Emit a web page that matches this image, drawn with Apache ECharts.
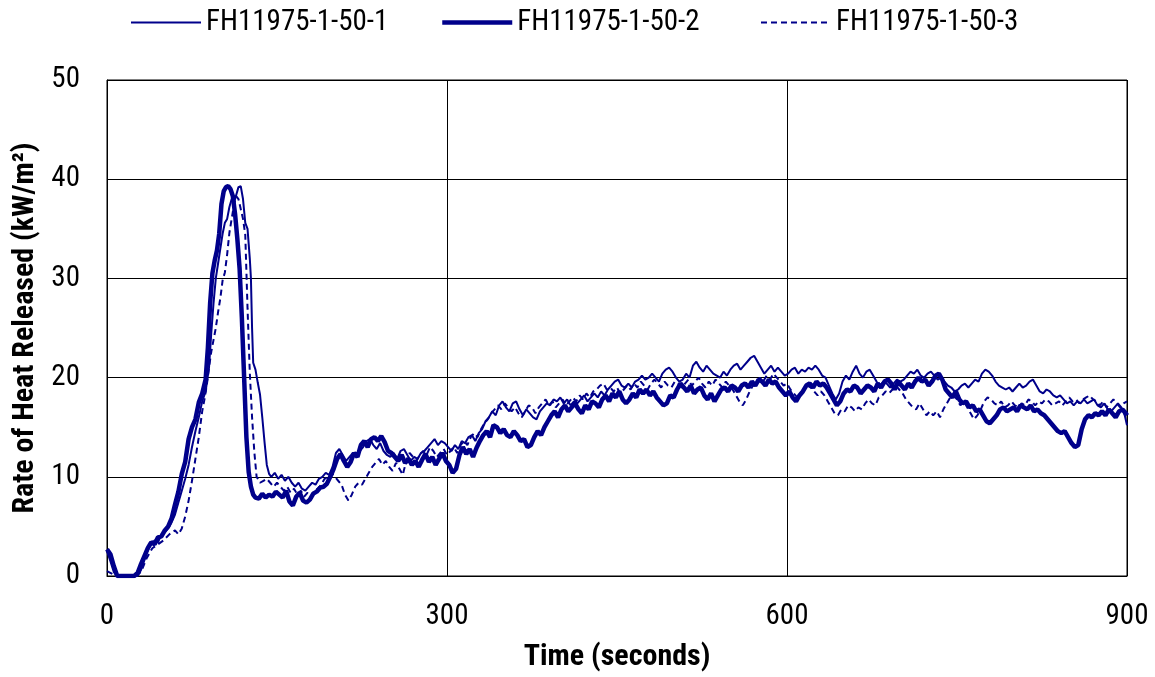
<!DOCTYPE html>
<html>
<head>
<meta charset="utf-8">
<script src="https://cdn.jsdelivr.net/npm/echarts@6/dist/echarts.min.js"></script>
<style>
html,body{margin:0;padding:0;background:#fff;}
#chart{width:1155px;height:677px;}
</style>
</head>
<body>
<div id="chart"></div>
<script>
const seriesNames = ['FH11975-1-50-1', 'FH11975-1-50-2', 'FH11975-1-50-3'];
const xTicks = [0, 300, 600, 900];
const yTicks = [0, 10, 20, 30, 40, 50];

// [time (s), rate of heat released (kW/m²)]
const run1 = [[0,2.5],[3,1.5],[6,0.4],[9,0],[12,0],[15,0],[18,0],[21,0],[24,0],[27,0],[30,0.6],[33,1.6],[36,2.6],[39,3.2],[42,3.6],[45,3.4],[48,4.2],[51,4.4],[54,4.8],[57,5.4],[60,6.2],[63,7.4],[66,8.6],[69,9.8],[72,11.2],[75,13.0],[78,14.6],[81,16.0],[84,17.6],[87,18.6],[90,21],[92,24.5],[94,27.5],[96,30.0],[98,31.5],[100,33.0],[102,34.5],[104,35.6],[106,36.0],[108,37.2],[110,38.0],[112,37.6],[114,38.4],[116,39.2],[118,39.3],[120,38.0],[122,35.6],[124,35.0],[126,32],[127,30],[128,25],[129,21.5],[131,20.8],[133,19.5],[135,18.3],[137,16],[139,13.5],[141,11.2],[143,10.3],[145,10.0],[148,10.4],[151,9.8],[154,10.2],[157,9.6],[160,10.0],[163,9.4],[166,9.0],[169,9.4],[172,8.8],[175,8.6],[178,9.0],[181,9.4],[184,9.2],[187,9.8],[190,10.0],[193,10.4],[196,10.2],[199,11.0],[202,12.4],[205,12.8],[208,12.2],[211,11.6],[214,12.0],[217,12.4],[220,12.0],[223,12.6],[226,13.0],[229,13.6],[232,13.8],[235,13.2],[238,12.8],[241,13.4],[244,12.6],[247,12.2],[250,12.0],[253,12.4],[256,11.8],[259,12.6],[262,12.8],[265,12.2],[268,11.6],[271,12.0],[274,11.8],[277,12.4],[280,12.6],[283,13.0],[286,13.4],[289,13.8],[292,13.2],[295,13.6],[298,13.4],[301,13.0],[304,12.6],[307,13.2],[310,12.8],[313,13.6],[316,13.4],[319,14.0],[322,14.2],[325,13.6],[328,14.4],[331,14.8],[334,15.6],[337,16.0],[340,16.6],[343,16.2],[346,17.2],[349,17.6],[352,17.0],[355,16.6],[358,17.4],[361,17.6],[364,16.8],[367,16.2],[370,16.8],[373,16.4],[376,16.0],[379,15.8],[382,16.6],[385,17.0],[388,17.4],[391,17.2],[394,17.8],[397,17.6],[400,18.0],[403,17.4],[406,17.8],[409,17.2],[412,17.6],[415,17.4],[418,17.8],[421,18.2],[424,17.6],[427,18.0],[430,18.4],[433,18.0],[436,18.6],[439,18.2],[442,18.8],[445,19.2],[448,19.6],[451,19.8],[454,19.2],[457,19.0],[460,19.4],[463,19.0],[466,19.6],[469,19.8],[472,20.2],[475,19.8],[478,20.0],[481,20.4],[484,20.0],[487,19.6],[490,20.4],[493,20.8],[496,21.0],[499,20.6],[502,20.0],[505,19.6],[508,19.8],[511,20.4],[514,20.0],[517,21.2],[520,21.6],[523,21.0],[526,20.6],[529,21.2],[532,20.8],[535,20.4],[538,20.2],[541,20.0],[544,20.6],[547,20.2],[550,20.8],[553,21.2],[556,21.4],[559,20.8],[562,21.2],[565,21.6],[568,22.0],[571,22.2],[574,21.6],[577,21.0],[580,20.4],[583,20.8],[586,21.2],[589,20.6],[592,21.0],[595,20.6],[598,20.2],[601,20.4],[604,20.8],[607,21.0],[610,20.4],[613,20.8],[616,20.6],[619,21.0],[622,20.8],[625,21.2],[628,20.8],[631,20.2],[634,20.0],[637,19.2],[640,18.4],[643,17.8],[646,18.4],[649,19.6],[652,20.2],[655,19.8],[658,20.6],[661,21.2],[664,20.4],[667,20.0],[670,20.6],[673,20.8],[676,20.2],[679,19.6],[682,19.2],[685,19.6],[688,19.4],[691,19.0],[694,19.4],[697,19.8],[700,19.6],[703,19.8],[706,20.2],[709,20.6],[712,20.4],[715,20.8],[718,20.2],[721,20.0],[724,20.4],[727,20.6],[730,20.2],[733,19.8],[736,20.0],[739,19.6],[742,19.2],[745,19.0],[748,18.6],[751,18.8],[754,19.2],[757,19.4],[760,19.0],[763,19.4],[766,19.8],[769,19.6],[772,20.4],[775,20.8],[778,20.6],[781,20.2],[784,19.6],[787,19.2],[790,19.0],[793,18.8],[796,19.0],[799,18.6],[802,19.0],[805,19.4],[808,19.0],[811,19.2],[814,19.6],[817,19.8],[820,19.2],[823,18.6],[826,18.4],[829,18.8],[832,18.6],[835,18.2],[838,18.0],[841,18.2],[844,17.8],[847,17.4],[850,17.6],[853,17.2],[856,17.6],[859,17.4],[862,17.8],[865,17.4],[868,17.6],[871,17.8],[874,17.2],[877,17.0],[880,17.4],[883,16.8],[886,16.6],[889,17.0],[892,17.4],[895,17.0],[898,16.2],[900,15.2]];

const run2 = [[0,2.7],[3,2.2],[6,1.0],[9,0],[12,0],[15,0],[18,0],[21,0],[24,0],[27,0.3],[30,1.2],[33,2.0],[36,2.8],[39,3.4],[42,3.2],[45,3.9],[48,4.0],[51,4.6],[54,5.0],[57,5.8],[60,7.2],[63,8.5],[66,10.3],[69,11.5],[72,13.8],[75,15.0],[78,15.8],[81,17.5],[84,18.4],[87,19.8],[89,23],[91,27.5],[93,30.5],[95,31.8],[97,32.8],[99,34.5],[101,37.5],[103,38.8],[105,39.2],[107,39.3],[109,39.0],[111,38.3],[113,36.5],[115,34],[117,31],[119,26],[121,20],[123,14],[125,10.5],[127,9.0],[129,8.2],[131,7.9],[134,7.8],[137,8.3],[140,7.9],[143,8.2],[146,8.0],[149,8.5],[152,8.2],[155,7.9],[158,8.6],[161,7.5],[164,7.1],[167,8.0],[170,8.4],[173,7.6],[176,7.4],[179,7.7],[182,8.3],[185,8.5],[188,8.9],[191,9.0],[194,9.3],[197,10.0],[200,10.8],[203,11.8],[206,12.3],[209,11.6],[212,11.0],[215,11.5],[218,12.4],[221,12.0],[224,13.2],[227,13.6],[230,13.0],[233,13.8],[236,14.0],[239,13.6],[242,14.1],[245,13.5],[248,12.6],[251,12.4],[254,12.0],[257,11.6],[260,12.2],[263,11.4],[266,11.8],[269,11.2],[272,11.6],[275,11.0],[278,11.7],[281,12.3],[284,11.5],[287,12.0],[290,11.2],[293,11.8],[296,12.4],[299,11.6],[302,11.2],[305,10.4],[308,10.8],[311,12.2],[314,13.0],[317,12.3],[320,12.8],[323,12.0],[326,12.9],[329,13.6],[332,14.2],[335,14.6],[338,14.0],[341,15.2],[344,15.0],[347,14.4],[350,14.8],[353,14.2],[356,14.0],[359,14.6],[362,14.2],[365,13.6],[368,13.8],[371,13.0],[374,13.2],[377,14.0],[380,14.6],[383,14.2],[386,15.0],[389,15.6],[392,16.2],[395,16.6],[398,16.0],[401,16.8],[404,17.2],[407,16.6],[410,17.0],[413,17.4],[416,16.8],[419,16.4],[422,17.2],[425,16.8],[428,17.6],[431,17.4],[434,17.0],[437,17.8],[440,18.2],[443,17.6],[446,18.4],[449,18.0],[452,18.6],[455,17.8],[458,17.4],[461,17.8],[464,18.4],[467,18.0],[470,18.8],[473,18.4],[476,18.8],[479,18.2],[482,18.6],[485,18.0],[488,17.6],[491,17.2],[494,17.4],[497,18.2],[500,18.0],[503,18.8],[506,19.4],[509,19.0],[512,18.6],[515,19.2],[518,18.4],[521,18.8],[524,19.0],[527,18.2],[530,17.8],[533,18.4],[536,17.6],[539,18.2],[542,18.8],[545,19.0],[548,18.6],[551,19.2],[554,19.0],[557,18.6],[560,19.2],[563,19.4],[566,19.0],[569,19.6],[572,19.2],[575,19.8],[578,19.6],[581,19.2],[584,19.8],[587,19.4],[590,19.6],[593,19.0],[596,18.6],[599,18.2],[602,18.6],[605,18.0],[608,17.6],[611,18.2],[614,18.6],[617,19.2],[620,19.4],[623,19.0],[626,19.6],[629,19.2],[632,19.4],[635,19.0],[638,18.4],[641,17.8],[644,17.2],[647,17.6],[650,18.4],[653,18.8],[656,18.6],[659,19.2],[662,19.0],[665,18.4],[668,18.8],[671,19.2],[674,19.0],[677,18.6],[680,19.4],[683,19.0],[686,19.6],[689,19.8],[692,19.4],[695,18.8],[698,19.6],[701,19.2],[704,18.8],[707,19.4],[710,19.0],[713,19.6],[716,20.0],[719,19.6],[722,19.8],[725,19.2],[728,19.6],[731,20.2],[734,20.4],[737,19.8],[740,18.8],[743,18.4],[746,18.0],[749,18.6],[752,17.8],[755,17.4],[758,17.6],[761,17.0],[764,17.2],[767,16.6],[770,16.8],[773,16.2],[776,15.6],[779,15.4],[782,15.8],[785,16.2],[788,16.8],[791,17.0],[794,16.6],[797,16.8],[800,17.0],[803,16.6],[806,17.2],[809,17.0],[812,16.8],[815,17.2],[818,16.6],[821,16.8],[824,16.4],[827,16.2],[830,15.8],[833,15.4],[836,15.0],[839,14.6],[842,14.4],[845,14.6],[848,14.0],[851,13.4],[854,13.0],[857,13.2],[860,14.8],[863,15.8],[866,16.2],[869,16.0],[872,16.4],[875,16.2],[878,16.6],[881,16.2],[884,16.8],[887,16.4],[890,16.0],[893,16.6],[896,16.8],[899,16.4],[900,16.2]];

const run3 = [[0,0.5],[5,0.2],[10,0],[15,0],[20,0],[25,0],[30,0.4],[35,1.8],[40,2.8],[45,3.2],[50,3.6],[55,4.2],[60,4.6],[63,4.2],[66,4.8],[69,6.0],[72,7.6],[75,9.6],[78,11.8],[81,14.0],[84,16.6],[86,17.8],[88,19.2],[90,21.0],[92,22.6],[94,23.8],[96,25.0],[98,26.6],[100,28.0],[102,29.8],[104,30.6],[106,32.4],[108,34.6],[110,36.0],[112,37.4],[114,38.3],[116,38.0],[118,37.0],[120,36.0],[122,34.4],[124,27],[126,20.5],[128,16.0],[130,12.5],[132,10.0],[135,9.4],[138,9.6],[141,9.8],[144,9.4],[147,9.0],[150,9.4],[153,9.0],[156,8.6],[159,9.0],[162,8.4],[165,8.8],[168,8.2],[171,8.6],[174,8.0],[177,8.4],[180,8.0],[183,8.6],[186,8.8],[189,9.2],[192,9.8],[195,10.0],[198,10.4],[201,10.0],[204,9.6],[207,9.2],[210,8.2],[213,7.6],[216,8.2],[219,9.0],[222,9.4],[225,9.2],[228,9.8],[231,10.4],[234,11.0],[237,11.4],[240,11.8],[243,11.2],[246,11.6],[249,11.0],[252,10.6],[255,11.4],[258,10.8],[261,10.2],[264,11.6],[267,12.4],[270,12.0],[273,11.6],[276,12.2],[279,12.6],[282,12.2],[285,13.0],[288,12.6],[291,12.0],[294,12.4],[297,12.8],[300,12.2],[303,12.6],[306,13.0],[309,12.4],[312,13.2],[315,13.6],[318,13.2],[321,14.0],[324,14.4],[327,14.0],[330,14.8],[333,15.4],[336,15.8],[339,16.4],[342,16.8],[345,17.2],[348,16.8],[351,17.4],[354,17.0],[357,16.6],[360,17.0],[363,16.4],[366,16.0],[369,16.6],[372,17.2],[375,17.0],[378,16.4],[381,17.0],[384,17.4],[387,17.8],[390,17.2],[393,17.6],[396,17.0],[399,17.4],[402,17.8],[405,17.2],[408,17.6],[411,18.0],[414,17.6],[417,18.2],[420,17.8],[423,18.4],[426,18.0],[429,18.6],[432,18.8],[435,19.2],[438,19.4],[441,18.8],[444,19.0],[447,18.6],[450,19.0],[453,18.4],[456,18.8],[459,19.2],[462,18.8],[465,19.4],[468,19.0],[471,19.6],[474,19.2],[477,18.8],[480,19.4],[483,19.8],[486,19.4],[489,19.0],[492,19.6],[495,19.2],[498,19.0],[501,19.6],[504,19.4],[507,19.0],[510,19.4],[513,19.8],[516,19.2],[519,19.6],[522,20.0],[525,19.4],[528,19.0],[531,19.6],[534,19.2],[537,19.8],[540,19.4],[543,19.0],[546,19.6],[549,19.2],[552,18.8],[555,18.2],[558,17.6],[561,17.2],[564,17.8],[567,18.6],[570,19.2],[573,19.6],[576,20.0],[579,19.6],[582,20.2],[585,19.8],[588,20.4],[591,20.0],[594,19.6],[597,19.2],[600,19.4],[603,18.8],[606,18.4],[609,18.0],[612,18.4],[615,18.8],[618,19.2],[621,19.0],[624,18.6],[627,18.2],[630,18.6],[633,18.2],[636,17.6],[639,17.0],[642,16.4],[645,16.2],[648,16.8],[651,16.6],[654,17.2],[657,17.0],[660,16.6],[663,17.0],[666,16.8],[669,17.4],[672,17.8],[675,17.4],[678,17.2],[681,18.0],[684,18.2],[687,18.6],[690,18.4],[693,18.8],[696,19.2],[699,18.8],[702,18.4],[705,17.8],[708,17.4],[711,17.0],[714,16.8],[717,17.4],[720,16.8],[723,16.2],[726,16.6],[729,16.2],[732,16.6],[735,16.0],[738,16.8],[741,17.4],[744,18.0],[747,18.2],[750,17.8],[753,17.2],[756,17.6],[759,17.0],[762,16.4],[765,15.8],[768,16.2],[771,16.8],[774,17.6],[777,18.0],[780,17.8],[783,17.4],[786,17.2],[789,17.6],[792,17.0],[795,17.2],[798,17.6],[801,17.2],[804,17.0],[807,17.4],[810,17.2],[813,17.8],[816,17.6],[819,17.2],[822,17.6],[825,17.4],[828,17.8],[831,17.6],[834,17.2],[837,17.4],[840,17.6],[843,17.2],[846,17.6],[849,18.0],[852,17.6],[855,17.8],[858,17.4],[861,17.8],[864,18.0],[867,18.2],[870,17.8],[873,17.6],[876,17.2],[879,17.6],[882,17.0],[885,17.4],[888,17.8],[891,17.4],[894,17.0],[897,17.4],[900,17.6]];

const FONT = "'Liberation Sans Narrow', 'Roboto Condensed', Roboto, 'Noto Sans', sans-serif";
const NAVY = '#00008B';
const widths = [2, 4.5, 2];
const dashes = ['solid', 'solid', [6, 4]];
const legendLeft = [130, 440, 760];

const chart = echarts.init(document.getElementById('chart'));
chart.setOption({
  backgroundColor: '#fff',
  animation: false,
  textStyle: { fontFamily: FONT },
  legend: seriesNames.map((n, i) => ({
    top: 8,
    left: legendLeft[i],
    padding: 0,
    itemWidth: 70,
    itemHeight: 14,
    itemStyle: { opacity: 0 },
    textStyle: { fontFamily: FONT, fontSize: 29, color: '#000' },
    data: [{ name: n, lineStyle: { color: NAVY, width: widths[i], type: dashes[i] } }]
  })),
  grid: { left: 107, right: 28, top: 80, bottom: 97, show: true, borderColor: '#000', borderWidth: 1, backgroundColor: 'transparent' },
  xAxis: {
    type: 'value',
    min: xTicks[0],
    max: xTicks[xTicks.length - 1],
    interval: 300,
    name: 'Time (seconds)',
    nameLocation: 'middle',
    nameGap: 66,
    nameTextStyle: { fontFamily: FONT, fontSize: 30, fontWeight: 'bold', color: '#000' },
    axisLine: { show: true, lineStyle: { color: '#000', width: 1 } },
    axisTick: { show: false },
    axisLabel: { fontFamily: FONT, fontSize: 29, color: '#000', margin: 26 },
    splitLine: { show: true, lineStyle: { color: '#000', width: 1 } }
  },
  yAxis: {
    type: 'value',
    min: yTicks[0],
    max: yTicks[yTicks.length - 1],
    interval: 10,
    name: 'Rate of Heat Released (kW/m²)',
    nameLocation: 'middle',
    nameGap: 67,
    nameTextStyle: { fontFamily: FONT, fontSize: 30, fontWeight: 'bold', color: '#000' },
    axisLine: { show: true, lineStyle: { color: '#000', width: 1 } },
    axisTick: { show: false },
    axisLabel: { fontFamily: FONT, fontSize: 29, color: '#000', margin: 27 },
    splitLine: { show: true, lineStyle: { color: '#000', width: 1 } }
  },
  series: seriesNames.map((n, i) => ({
    name: n,
    type: 'line',
    data: [run1, run2, run3][i],
    showSymbol: false,
    symbol: 'none',
    lineStyle: { color: NAVY, width: widths[i], type: dashes[i] },
    itemStyle: { color: NAVY },
    z: [3, 2, 4][i]
  }))
});
</script>
</body>
</html>
